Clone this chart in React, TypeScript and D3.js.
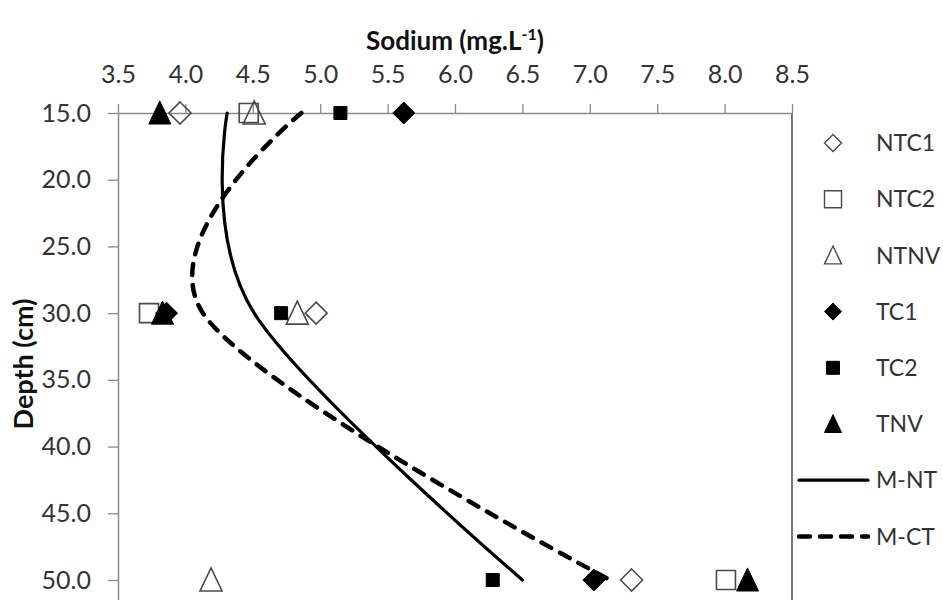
import React, { useEffect, useRef } from 'react';
import * as d3 from 'd3';

// depth rows (cm)
const depths = [15, 30, 50];

// sodium readings (mg/L), one value per depth
const ntc1 = [3.96, 4.97, 7.31];
const ntc2 = [4.47, 3.73, 8.01];
const ntnv = [4.51, 4.83, 4.19];
const tc1 = [5.62, 3.86, 7.03];
const tc2 = [5.15, 4.71, 6.28];
const tnv = [3.81, 3.83, 8.17];

// smoothed mean profiles
const mNT = [4.31, 4.51, 6.5];
const mCT = [4.86, 4.13, 7.15];

const xTicks = [3.5, 4.0, 4.5, 5.0, 5.5, 6.0, 6.5, 7.0, 7.5, 8.0, 8.5];
const yTicks = [15, 20, 25, 30, 35, 40, 45, 50];

const FONT = 'Lato, "Open Sans", sans-serif';

// custom marker shapes, size = r*r
const diamond = {
  draw(ctx: any, size: number) {
    const r = Math.sqrt(size);
    ctx.moveTo(0, -r);
    ctx.lineTo(r, 0);
    ctx.lineTo(0, r);
    ctx.lineTo(-r, 0);
    ctx.closePath();
  },
};
const square = {
  draw(ctx: any, size: number) {
    const r = Math.sqrt(size);
    ctx.rect(-r, -r, 2 * r, 2 * r);
  },
};
const triangle = {
  draw(ctx: any, size: number) {
    const r = Math.sqrt(size);
    ctx.moveTo(0, -r * 1.1);
    ctx.lineTo(r, r);
    ctx.lineTo(-r, r);
    ctx.closePath();
  },
};

const series = [
  { name: 'NTC1', values: ntc1, type: diamond, filled: false, r: 11, lr: 8.5 },
  { name: 'NTC2', values: ntc2, type: square, filled: false, r: 9.5, lr: 8.5 },
  { name: 'NTNV', values: ntnv, type: triangle, filled: false, r: 11, lr: 8.5 },
  { name: 'TC1', values: tc1, type: diamond, filled: true, r: 11, lr: 8.5 },
  { name: 'TC2', values: tc2, type: square, filled: true, r: 6.5, lr: 6.5 },
  { name: 'TNV', values: tnv, type: triangle, filled: true, r: 11, lr: 8.5 },
];

const lines = [
  { name: 'M-NT', values: mNT, dash: null, width: 3.2 },
  { name: 'M-CT', values: mCT, dash: '11 10', width: 4.5 },
];

export default function App() {
  const ref = useRef<SVGSVGElement>(null);

  useEffect(() => {
    const svg = d3.select(ref.current);
    svg.selectAll('*').remove();

    const left = 118;
    const right = 792;
    const top = 113;
    const x = d3.scaleLinear().domain([3.5, 8.5]).range([left, right]);
    const y = d3.scaleLinear().domain([15, 55]).range([top, top + 40 * (467 / 35)]);

    // right border of plot area
    svg
      .append('line')
      .attr('x1', right)
      .attr('x2', right)
      .attr('y1', top)
      .attr('y2', 620)
      .attr('stroke', '#555')
      .attr('stroke-width', 1.6);

    // top axis
    const xAxis = d3
      .axisTop(x)
      .tickValues(xTicks)
      .tickFormat(d3.format('.1f'))
      .tickSizeInner(9)
      .tickSizeOuter(0)
      .tickPadding(21);
    const gx = svg.append('g').attr('transform', `translate(0,${top})`).call(xAxis);
    gx.select('.domain').attr('stroke', '#8a8a8a').attr('stroke-width', 1.5);
    gx.selectAll('.tick line').attr('stroke', '#8a8a8a').attr('stroke-width', 1.3);
    gx.selectAll('.tick text')
      .attr('font-family', FONT)
      .attr('font-size', 25)
      .attr('fill', '#333');

    // left axis (runs past the bottom of the picture)
    const yAxis = d3
      .axisLeft(y)
      .tickValues(yTicks)
      .tickFormat(d3.format('.1f'))
      .tickSizeInner(10)
      .tickSizeOuter(0)
      .tickPadding(17);
    const gy = svg.append('g').attr('transform', `translate(${left},0)`).call(yAxis);
    gy.select('.domain').attr('stroke', '#8a8a8a').attr('stroke-width', 1.5);
    gy.selectAll('.tick line').attr('stroke', '#8a8a8a').attr('stroke-width', 1.3);
    gy.selectAll('.tick text')
      .attr('font-family', FONT)
      .attr('font-size', 25)
      .attr('fill', '#333');

    // axis titles
    const title = svg
      .append('text')
      .attr('x', (left + right) / 2)
      .attr('y', 50)
      .attr('text-anchor', 'middle')
      .attr('font-family', FONT)
      .attr('font-weight', 'bold')
      .attr('font-size', 26)
      .attr('fill', '#111');
    title.append('tspan').text('Sodium (mg.L');
    title.append('tspan').attr('dy', -10).attr('font-size', 16).text('-1');
    title.append('tspan').attr('dy', 10).text(')');

    svg
      .append('text')
      .attr('transform', `translate(33,364) rotate(-90)`)
      .attr('text-anchor', 'middle')
      .attr('font-family', FONT)
      .attr('font-weight', 'bold')
      .attr('font-size', 27)
      .attr('fill', '#111')
      .text('Depth (cm)');

    const plot = svg.append('g');

    // markers
    series.forEach((s) => {
      const sym = d3.symbol().type(s.type as any).size(s.r * s.r);
      plot
        .selectAll(null)
        .data(s.values)
        .join('path')
        .attr('d', sym as any)
        .attr('transform', (d, i) => `translate(${x(d)},${y(depths[i])})`)
        .attr('fill', s.filled ? '#000' : 'none')
        .attr('stroke', s.filled ? '#000' : '#4a4a4a')
        .attr('stroke-width', s.filled ? 1 : 1.6);
    });

    // smoothed mean lines
    const lineGen = d3
      .line<number>()
      .x((d) => x(d))
      .y((d, i) => y(depths[i]))
      .curve(d3.curveCardinal.tension(0));
    lines.forEach((l) => {
      plot
        .append('path')
        .attr('d', lineGen(l.values))
        .attr('fill', 'none')
        .attr('stroke', '#000')
        .attr('stroke-width', l.width)
        .attr('stroke-linecap', 'round')
        .attr('stroke-dasharray', l.dash);
    });

    // legend
    const lx = 833;
    const ly0 = 143;
    const step = 56.2;
    const tx = 876;
    const legend = svg.append('g');
    series.forEach((s, i) => {
      const yy = ly0 + i * step;
      const sym = d3.symbol().type(s.type as any).size(s.lr * s.lr);
      legend
        .append('path')
        .attr('d', sym() as any)
        .attr('transform', `translate(${lx},${yy})`)
        .attr('fill', s.filled ? '#000' : 'none')
        .attr('stroke', s.filled ? '#000' : '#4a4a4a')
        .attr('stroke-width', s.filled ? 1 : 1.4);
      legend
        .append('text')
        .attr('x', tx)
        .attr('y', yy)
        .attr('dy', '0.36em')
        .attr('font-family', FONT)
        .attr('font-size', 23)
        .attr('fill', '#333')
        .text(s.name);
    });
    lines.forEach((l, j) => {
      const yy = ly0 + (series.length + j) * step;
      legend
        .append('line')
        .attr('x1', 799)
        .attr('x2', 868)
        .attr('y1', yy)
        .attr('y2', yy)
        .attr('stroke', '#000')
        .attr('stroke-width', l.width)
        .attr('stroke-linecap', 'round')
        .attr('stroke-dasharray', l.dash);
      legend
        .append('text')
        .attr('x', tx)
        .attr('y', yy)
        .attr('dy', '0.36em')
        .attr('font-family', FONT)
        .attr('font-size', 23)
        .attr('fill', '#333')
        .text(l.name);
    });
  }, []);

  return (
    <svg
      ref={ref}
      width={943}
      height={600}
      style={{ position: 'absolute', left: 0, top: 0, background: '#fff' }}
    />
  );
}
